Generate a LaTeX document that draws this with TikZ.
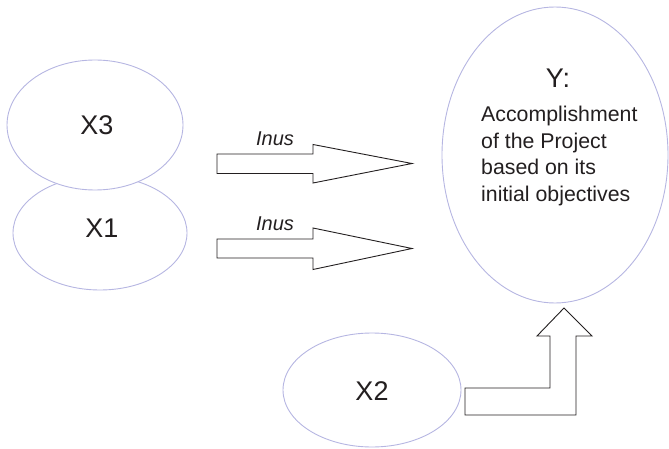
\documentclass[tikz,border=0pt]{standalone}
\usepackage{fontspec}
\setmainfont{Liberation Sans}
\usetikzlibrary{shapes.geometric}
\definecolor{ellcol}{RGB}{182,182,226}
\definecolor{txtcol}{RGB}{35,31,32}
\tikzset{
  oval/.style={ellipse, draw=ellcol, fill=white, line width=0.9pt, inner sep=0pt},
  biglabel/.style={anchor=base, inner sep=0pt, text=txtcol, font=\fontsize{27}{30}\selectfont},
  inuslabel/.style={anchor=base, inner sep=0pt, text=txtcol, font=\fontsize{20}{22}\selectfont\itshape},
  blockarrow/.style={draw=txtcol, fill=white, line width=0.9pt, line join=miter}
}
\begin{document}
\begin{tikzpicture}[x=1pt,y=-1pt]
\useasboundingbox (0,0) rectangle (669,449);
% ellipses
\node[oval, minimum width=174pt, minimum height=114pt] (x1) at (100,233) {};
\node[oval, minimum width=176pt, minimum height=130pt] (x3) at (95,125) {};
\node[oval, minimum width=178pt, minimum height=114pt] (x2) at (372,390) {};
\node[oval, minimum width=226pt, minimum height=296pt] (y) at (555,155) {};
% labels
\node[biglabel] (x3t) at (97,135) {X3};
\node[biglabel] (x1t) at (102,237) {X1};
\node[biglabel] (x2t) at (372,400) {X2};
\node[biglabel] (yt) at (558,88) {Y:};
\node[anchor=north west, inner sep=0pt, align=left, text=txtcol,
      font=\fontsize{21.3}{26.7}\selectfont] (ybody) at (481,105.7)
  {Accomplishment\\of the Project\\based on its\\initial objectives};
% block arrows
\coordinate (a1) at (217,163.5);
\draw[blockarrow] (a1) ++(0,-9.5) -- ++(96,0) -- ++(0,-9.5) -- (412,163.5)
  -- (313,183) -- ++(0,-9.5) -- ++(-96,0) -- cycle;
\node[inuslabel] (inus1) at (275,145.7) {Inus};
\coordinate (a2) at (217,248.5);
\draw[blockarrow] (a2) ++(0,-9.5) -- ++(96,0) -- ++(0,-11) -- (412,248.5)
  -- (313,269.5) -- ++(0,-11.5) -- ++(-96,0) -- cycle;
\node[inuslabel] (inus2) at (275,230) {Inus};
\coordinate (b1) at (465,388);
\draw[blockarrow] (b1) -- (550,388) -- (550,336) -- (537,336) -- (564,308)
  -- (592,336) -- (576,336) -- (576,415) -- (465,415) -- cycle;
\end{tikzpicture}
\end{document}
